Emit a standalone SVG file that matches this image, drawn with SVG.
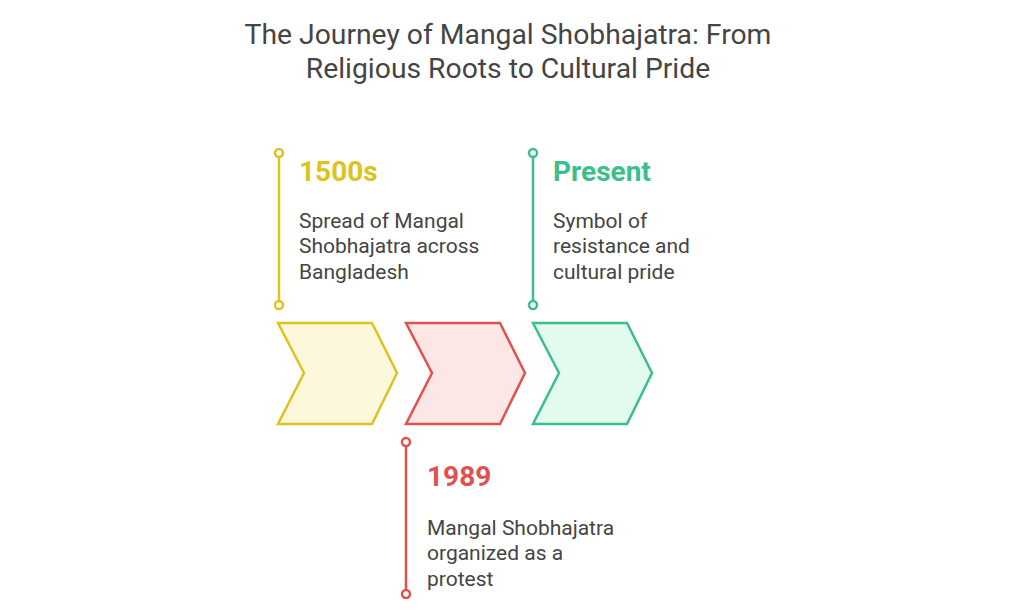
<svg xmlns="http://www.w3.org/2000/svg" width="1024" height="614" viewBox="0 0 1024 614">
<style>
.title{font-family:Roboto,"Liberation Sans",sans-serif;font-size:28.3px;fill:#454545;text-anchor:middle}
.head{font-family:Roboto,"Liberation Sans",sans-serif;font-size:28px;font-weight:bold}
.body{font-family:Roboto,"Liberation Sans",sans-serif;font-size:21px;fill:#454545}
.ln{stroke-width:2.5;fill:none}
.dot{stroke-width:2.5;fill:#fff}
.chev{stroke-width:2.5;stroke-linejoin:miter}
</style>
<rect width="1024" height="614" fill="#fff"/>
<text class="title" x="508" y="44">The Journey of Mangal Shobhajatra: From</text>
<text class="title" x="508" y="78">Religious Roots to Cultural Pride</text>
<g id="connectors">
<line class="ln" x1="279" y1="157" x2="279" y2="301" stroke="#dcc31e"/>
<circle class="dot" cx="279" cy="153" r="4" stroke="#dcc31e"/>
<circle class="dot" cx="279" cy="305" r="4" stroke="#dcc31e"/>
<line class="ln" x1="533" y1="157" x2="533" y2="301" stroke="#3cbf8a"/>
<circle class="dot" cx="533" cy="153" r="4" stroke="#3cbf8a"/>
<circle class="dot" cx="533" cy="305" r="4" stroke="#3cbf8a"/>
<line class="ln" x1="406" y1="446" x2="406" y2="590" stroke="#e05250"/>
<circle class="dot" cx="406" cy="442" r="4" stroke="#e05250"/>
<circle class="dot" cx="406" cy="594" r="4" stroke="#e05250"/>
</g>
<g id="node-1500s">
<polygon class="chev" points="278,323 372,323 397,373 372,424 278,424 304,373" fill="#fdf8dc" stroke="#dcc31e"/>
<text class="head" x="299" y="181" fill="#dcc31e">1500s</text>
<text class="body" x="299" y="228">Spread of Mangal</text>
<text class="body" x="299" y="253">Shobhajatra across</text>
<text class="body" x="299" y="279">Bangladesh</text>
</g>
<g id="node-1989">
<polygon class="chev" points="406,323 500,323 525,373 500,424 406,424 432,373" fill="#fde7e6" stroke="#e05250"/>
<text class="head" x="427" y="486" fill="#e05250">1989</text>
<text class="body" x="427" y="535">Mangal Shobhajatra</text>
<text class="body" x="427" y="560">organized as a</text>
<text class="body" x="427" y="586">protest</text>
</g>
<g id="node-present">
<polygon class="chev" points="533,323 627,323 652,373 627,424 533,424 559,373" fill="#e3faee" stroke="#3cbf8a"/>
<text class="head" x="553" y="181" fill="#3cbf8a">Present</text>
<text class="body" x="553" y="228">Symbol of</text>
<text class="body" x="553" y="253">resistance and</text>
<text class="body" x="553" y="279">cultural pride</text>
</g>
</svg>
